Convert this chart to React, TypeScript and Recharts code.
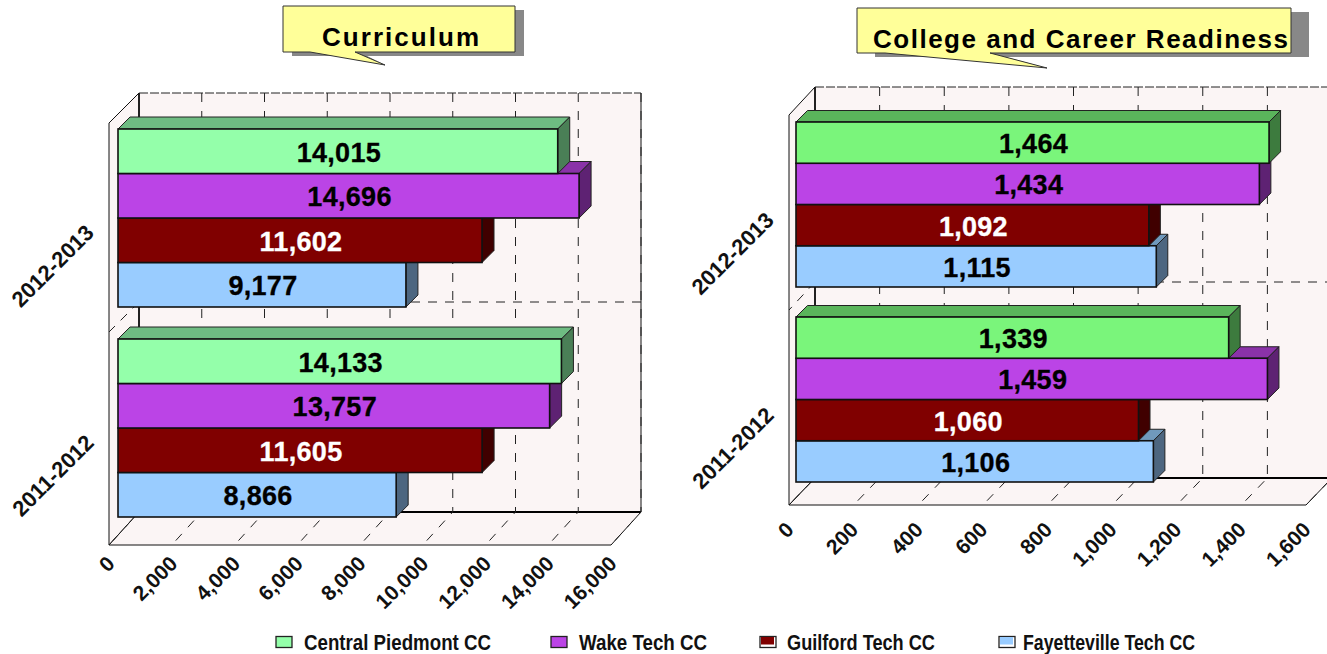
import { BarChart, Bar, XAxis, YAxis, CartesianGrid } from 'recharts';

const years = ['2012-2013', '2011-2012'];

const curriculumCentral = [14015, 14133];
const curriculumWake = [14696, 13757];
const curriculumGuilford = [11602, 11605];
const curriculumFayetteville = [9177, 8866];
const curriculumTicks = [0, 2000, 4000, 6000, 8000, 10000, 12000, 14000, 16000];

const readinessCentral = [1464, 1339];
const readinessWake = [1434, 1459];
const readinessGuilford = [1092, 1060];
const readinessFayetteville = [1115, 1106];
const readinessTicks = [0, 200, 400, 600, 800, 1000, 1200, 1400, 1600];

const colleges = ['Central Piedmont CC', 'Wake Tech CC', 'Guilford Tech CC', 'Fayetteville Tech CC'];

const buildRows = (a: number[], b: number[], c: number[], d: number[]) =>
  years.map((year, i) => ({ year, central: a[i], wake: b[i], guilford: c[i], fayetteville: d[i] }));

const font = '"Liberation Sans", Arial, sans-serif';
const fmt = (v: number) => v.toLocaleString('en-US');

// front, top and side shades of each 3D bar
const leftColors = {
  central: ['#94FFAA', '#6EBC82', '#4A7F56'],
  wake: ['#BB44E6', '#8A32A8', '#5E2273'],
  guilford: ['#800000', '#5C0000', '#400000'],
  fayetteville: ['#99CCFF', '#7099BC', '#4D6680'],
};
const rightColors = {
  ...leftColors,
  central: ['#7AF57B', '#5AB55B', '#3D7B3E'],
};

// Bars are declared bottom-first so upper bars paint over the tops of lower ones,
// the shape then puts each one back in its slot in the group.
const Bar3D = (props: any) => {
  const { x, y, width, height, value, colors, slot, depth, textColor, barH } = props;
  const top = y - slot * height + (3 - slot) * barH;
  const right = x + width;
  return (
    <g>
      <polygon
        points={`${x},${top} ${x + depth},${top - depth} ${right + depth},${top - depth} ${right},${top}`}
        fill={colors[1]}
        stroke="#222"
        strokeWidth={1}
      />
      <polygon
        points={`${right},${top} ${right + depth},${top - depth} ${right + depth},${top + barH - depth} ${right},${top + barH}`}
        fill={colors[2]}
        stroke="#222"
        strokeWidth={1}
      />
      <rect x={x} y={top} width={width} height={barH} fill={colors[0]} stroke="#111" strokeWidth={1.6} />
      <text
        x={x + width / 2 + 1}
        y={top + barH / 2 + 10.5}
        textAnchor="middle"
        fontFamily={font}
        fontWeight="bold"
        fontSize={27}
        letterSpacing={0.3}
        fill={textColor}
        stroke={textColor}
        strokeWidth={0.3}
      >
        {fmt(value)}
      </text>
    </g>
  );
};

const Walls = ({ p }: any) => {
  const bx = p.x - p.inset + p.wallX; // back wall left
  const fx = p.x - p.inset; // floor front left
  const w = p.width;
  const bottom = p.floorFront;
  const back = p.floorBack;
  const mid = p.y + p.height / 2 - p.midLift;
  return (
    <g>
      <rect x={bx} y={p.wallTop} width={w} height={back - p.wallTop} fill="#FBF5F5" />
      <polygon points={`${fx},${p.wallTop + p.wallY} ${bx},${p.wallTop} ${bx},${back} ${fx},${bottom}`} fill="#FBF5F5" stroke="#111" strokeWidth={1} />
      <polygon points={`${fx},${bottom} ${bx},${back} ${bx + w},${back} ${fx + w},${bottom}`} fill="#FBF5F5" stroke="#111" strokeWidth={1} />
      <line x1={bx} y1={back} x2={bx + w} y2={back} stroke="#000" strokeWidth={2} />
      <line x1={bx} y1={p.wallTop} x2={bx} y2={back} stroke="#000" strokeWidth={1.5} />
      <line x1={bx + w} y1={p.wallTop} x2={bx + w} y2={back} stroke="#111" strokeWidth={1} />
      <line x1={bx} y1={p.wallTop} x2={bx + w} y2={p.wallTop} stroke="#222" strokeWidth={1} strokeDasharray="9 2" />
      <line x1={bx} y1={mid} x2={bx + w} y2={mid} stroke="#222" strokeWidth={1} strokeDasharray="9 8" />
      <line x1={bx} y1={mid} x2={fx} y2={mid + p.wallY} stroke="#222" strokeWidth={1} strokeDasharray="9 8" />
    </g>
  );
};

const gridLine = (p: any) => (line: any) => {
  const xBack = line.x1 - p.inset + p.wallX;
  const xFront = line.x1 - p.inset;
  return (
    <g key={line.key}>
      <line x1={xBack} y1={p.wallTop} x2={xBack} y2={p.floorBack} stroke="#222" strokeWidth={1} strokeDasharray="9 9" />
      <line x1={xFront} y1={p.floorFront} x2={xBack} y2={p.floorBack} stroke="#222" strokeWidth={1} strokeDasharray="9 9" strokeDashoffset={-6} />
    </g>
  );
};

const xTick = (p: any) => ({ x, payload }: any) => {
  const tx = x - p.inset + p.tickX;
  const ty = p.floorFront + p.tickY;
  return (
    <text
      transform={`rotate(-45 ${tx} ${ty})`}
      x={tx}
      y={ty}
      textAnchor="end"
      dominantBaseline="middle"
      fontFamily={font}
      fontWeight="bold"
      fontSize={21}
      fill="#111"
    >
      {fmt(payload.value)}
    </text>
  );
};

const yTick = (p: any) => ({ y, payload }: any) => {
  const tx = p.x - p.inset - 18;
  const ty = y + p.labelShift;
  return (
    <text
      transform={`rotate(-45 ${tx} ${ty})`}
      x={tx}
      y={ty}
      textAnchor="end"
      dominantBaseline="middle"
      fontFamily={font}
      fontWeight="bold"
      fontSize={22}
      fill="#111"
    >
      {payload.value}
    </text>
  );
};

const Panel = ({ rows, ticks, max, colors, p, left, chartWidth, gap }: any) => {
  const bars = [
    { key: 'fayetteville', text: '#000' },
    { key: 'guilford', text: '#fff' },
    { key: 'wake', text: '#000' },
    { key: 'central', text: '#000' },
  ];
  return (
    <div style={{ position: 'absolute', left, top: 0, width: chartWidth, height: 654 }}>
      <svg width={chartWidth} height={654} style={{ position: 'absolute', left: 0, top: 0 }}>
        <Walls p={p} />
      </svg>
      <BarChart
        width={chartWidth}
        height={654}
        layout="vertical"
        data={rows}
        barCategoryGap={gap}
        barGap={0}
        margin={{ left: p.x - 1, top: p.y, right: chartWidth - p.x - p.width, bottom: 654 - p.y - p.height - 1 }}
      >
        <CartesianGrid horizontal={false} vertical={gridLine(p)} />
        <XAxis type="number" domain={[0, max]} ticks={ticks} interval={0} height={1} axisLine={false} tickLine={false} tick={xTick(p)} />
        <YAxis type="category" dataKey="year" width={1} axisLine={false} tickLine={false} tick={yTick(p)} />
        {bars.map((b, i) => (
          <Bar
            key={b.key}
            dataKey={b.key}
            isAnimationActive={false}
            shape={(s: any) => (
              <Bar3D {...s} colors={colors[b.key]} slot={i} depth={p.depth} textColor={b.text} barH={p.barH} />
            )}
          />
        ))}
      </BarChart>
    </div>
  );
};

const Callout = ({ x, y, w, h, shadowX, base1, base2, tipX, tipY, label, textX, textW, baseline }: any) => (
  <g>
    <rect x={x + shadowX} y={y + 4} width={w} height={h} fill="#888" />
    <polygon points={`${base2},${y + h} ${tipX},${tipY} ${base2 + 12},${y + h + 4}`} fill="#777" />
    <polygon points={`${x + 2},${y} ${x + w},${y} ${x + w},${y + h} ${base2},${y + h} ${tipX},${tipY} ${base1},${y + h} ${x},${y + h} ${x},${y}`} fill="#FFFF99" stroke="#333" strokeWidth={1} />
    <text x={textX} y={baseline} textLength={textW} lengthAdjust="spacing" fontFamily={font} fontWeight="bold" fontSize={26} fill="#000">
      {label}
    </text>
  </g>
);

const legendSwatches = [276, 551, 760, 999];
const legendText = [[304, 187], [579, 128], [787, 148], [1023, 172]];
const legendFills = ['#94FFAA', '#BB44E6', '#800000', '#99CCFF'];

const leftPlot = {
  x: 118, y: 113, width: 502, height: 420, inset: 9, wallX: 30, wallY: 30, barH: 44.5,
  wallTop: 93, floorBack: 512, floorFront: 545, depth: 12, midLift: 21, labelShift: 12, tickX: 3, tickY: 16,
};
const rightPlot = {
  x: 136, y: 107, width: 517, height: 390, inset: 7, wallX: 26, wallY: 28, barH: 41.25,
  wallTop: 87, floorBack: 478, floorFront: 505, depth: 11.5, midLift: 20, labelShift: 13, tickX: 2, tickY: 22,
};

const App = () => (
  <div style={{ position: 'absolute', left: 0, top: 0, width: 1327, height: 654, overflow: 'hidden', background: '#fff' }}>
    <Panel
      rows={buildRows(curriculumCentral, curriculumWake, curriculumGuilford, curriculumFayetteville)}
      ticks={curriculumTicks}
      max={16000}
      colors={leftColors}
      p={leftPlot}
      left={0}
      chartWidth={660}
      gap={16}
    />
    <Panel
      rows={buildRows(readinessCentral, readinessWake, readinessGuilford, readinessFayetteville)}
      ticks={readinessTicks}
      max={1600}
      colors={rightColors}
      p={rightPlot}
      left={660}
      chartWidth={667}
      gap={15}
    />
    <svg width={1327} height={654} style={{ position: 'absolute', left: 0, top: 0, pointerEvents: 'none' }}>
      <Callout x={283} y={6} w={232} h={46} shadowX={9} base1={310} base2={355} tipX={385} tipY={65} label="Curriculum" textX={322} textW={157} baseline={46} />
      <Callout x={857} y={8} w={434} h={45} shadowX={18} base1={885} base2={990} tipX={1047} tipY={68} label="College and Career Readiness" textX={873} textW={415} baseline={48} />
      {colleges.map((name, i) => (
        <g key={name}>
          <rect x={legendSwatches[i]} y={636.5} width={16} height={11} fill={i > 1 ? '#fff' : legendFills[i]} stroke="#222" strokeWidth={1.3} />
          {i > 1 && <rect x={legendSwatches[i] + 1} y={637} width={13} height={7.5} fill={legendFills[i]} />}
          <text x={legendText[i][0]} y={650} textLength={legendText[i][1]} lengthAdjust="spacingAndGlyphs" fontFamily={font} fontWeight="bold" fontSize={22} fill="#111">
            {name}
          </text>
        </g>
      ))}
    </svg>
  </div>
);

export default App;
